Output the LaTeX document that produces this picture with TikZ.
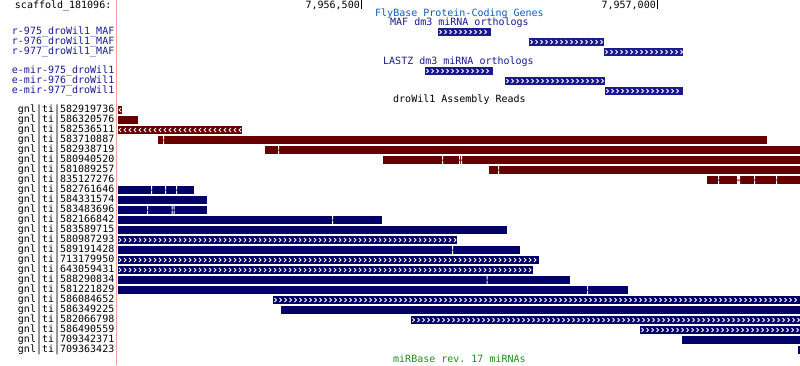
\documentclass[tikz,border=0pt]{standalone}
\usepackage{fontspec}
\setmonofont{DejaVu Sans Mono}
\usepackage{xcolor}
\definecolor{readred}{HTML}{660000}
\definecolor{readblue}{HTML}{000066}
\definecolor{orthoblue}{HTML}{1A1A8C}
\definecolor{flybase}{HTML}{0C5CB4}
\definecolor{mirgreen}{HTML}{228B22}
\definecolor{guideline}{HTML}{F2A0A0}
\usetikzlibrary{math}

\begin{document}
\begin{tikzpicture}[x=1pt, y=-1pt]
    \tikzset{%
        lbl/.style={font=\ttfamily\fontsize{10}{10}\selectfont, inner sep=0pt, anchor=east},
        trk/.style={font=\ttfamily\fontsize{10}{10}\selectfont, inner sep=0pt, anchor=west},
        pics/feat/.style args={#1/#2/#3/#4}{code={%
                        \fill [#3] (#1, 0) rectangle (#2, 8);
                        \ifnum#4=0\else
                            \tikzmath{%
                                \nchev=int(floor((#2-#1+1)/5));
                            };
                            \foreach \c in {1, ..., \nchev} {%
                                    \draw [white, line width=0.9pt] ({#1+5*\c-2.5-1*#4}, 2) -- ++({2*#4}, 2) -- ++({-2*#4}, 2);
                                };
                        \fi
                    }
            },
        pics/gap/.style args={#1/#2}{code={%
                        \fill [white] (#1, 0) rectangle ++(#2, 3.5) (#1, 4.5) rectangle ++(#2, 3.5);
                    }
            }
    }

    \useasboundingbox (0, 0) rectangle (800, 365);
    \draw [guideline, line width=1pt] (116.5, 0) -- (116.5, 365);

    % position ruler
    \node [lbl] (scaf) at (111.5, 6) {scaffold\_181096:};
    \node [lbl] (posa) at (360, 5) {7,956,500};
    \node [lbl] (posb) at (656, 5) {7,957,000};
    \draw (361.5, 0) -- (361.5, 9);
    \draw (657.5, 0) -- (657.5, 9);

    % track titles
    \node [trk, text=flybase] (flyb) at (375, 14) {FlyBase Protein-Coding Genes};
    \node [trk, text=orthoblue] (maf) at (390, 23) {MAF dm3 miRNA orthologs};
    \node [trk, text=orthoblue] (lastz) at (383, 62) {LASTZ dm3 miRNA orthologs};
    \node [trk] (reads) at (393, 100) {droWil1 Assembly Reads};
    \node [trk, text=mirgreen] (mirb) at (393, 359) {miRBase rev. 17 miRNAs};

    % miRNA orthologs: top/start/end/name
    \foreach \t/\xa/\xb/\nm in {28/438/491/r-975_droWil1_MAF, 38/529/604/r-976_droWil1_MAF, 48/604/683/r-977_droWil1_MAF,
            67/425/493/e-mir-975_droWil1, 77/505/605/e-mir-976_droWil1, 87/605/683/e-mir-977_droWil1} {%
            \pic at (0, \t) {feat=\xa/\xb/orthoblue/1};
            \node [lbl, text=orthoblue] (o\t) at (114.5, \t+4) {\detokenize\expandafter{\nm}};
        };

    % assembly reads: row/start/end/colour/strand/id
    \foreach \k/\xa/\xb/\col/\sdir/\id in {0/117.5/122/readred/-1/582919736, 1/117.5/138/readred/0/586320576,
            2/117.5/242/readred/-1/582536511, 3/158/767/readred/0/583710887, 4/265/800/readred/0/582938719,
            5/383/800/readred/0/580940520, 6/489/800/readred/0/581089257, 7/707/800/readred/0/835127276,
            8/117.5/194/readblue/0/582761646, 9/117.5/207/readblue/0/584331574, 10/117.5/207/readblue/0/583483696,
            11/117.5/382/readblue/0/582166842, 12/117.5/507/readblue/0/583589715, 13/117.5/457/readblue/1/580987293,
            14/117.5/520/readblue/0/589191428, 15/117.5/539/readblue/1/713179950, 16/117.5/533/readblue/1/643059431,
            17/117.5/570/readblue/0/588290834, 18/117.5/628/readblue/0/581221829, 19/273/800/readblue/1/586084652,
            20/281/800/readblue/0/586349225, 21/411/800/readblue/1/582066798, 22/640/800/readblue/1/586490559,
            23/682/800/readblue/0/709342371, 24/798/800/readblue/0/709363423} {%
            \pic at (0, {106+10*\k}) {feat=\xa/\xb/\col/\sdir};
            \node [lbl] (r\k) at (114.5, {110+10*\k}) {gnl|ti|\id};
        };

    % block gaps: row/x/width
    \foreach \k/\gx/\gw in {3/163/1, 4/278/1, 5/442/1, 5/459/1, 5/461/1, 6/498/1, 7/718/1, 7/737/3, 7/754/1, 7/776/1,
            8/151/1, 8/165/1, 8/176/1, 10/147/1, 10/171.5/1, 10/173.5/1, 11/332/1, 14/452/1, 17/486.5/1, 18/587/1} {%
            \pic at (0, {106+10*\k}) {gap=\gx/\gw};
        };
\end{tikzpicture}
\end{document}
